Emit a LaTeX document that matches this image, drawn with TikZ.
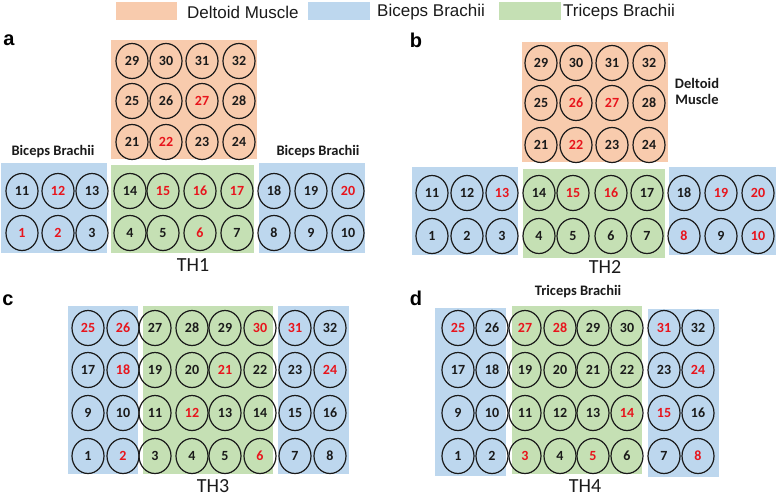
\documentclass[tikz,border=0pt]{standalone}
\usepackage{fontspec}
\setmainfont{Carlito}
\newfontfamily\arialf{Liberation Sans}
\usetikzlibrary{shapes.geometric}
\definecolor{dorange}{HTML}{F8CBAD}
\definecolor{bblue}{HTML}{BDD7EE}
\definecolor{tgreen}{HTML}{C5E0B4}
\definecolor{rd}{HTML}{E8141C}
\definecolor{bk}{HTML}{1A1A1A}
\begin{document}
\begin{tikzpicture}[x=1pt,y=-1pt,
  el/.style={draw=bk, line width=1.2pt, ellipse, minimum width=32pt, minimum height=35pt, inner sep=0pt, font=\bfseries\fontsize{14}{14}\selectfont},
  lab/.style={font=\bfseries\fontsize{14.5}{16}\selectfont, text=bk},
  thl/.style={font=\fontsize{20}{20}\selectfont, text=bk, inner sep=0pt},
  pan/.style={font=\arialf\bfseries\fontsize{20}{20}\selectfont},
  leg/.style={font=\arialf\fontsize{17}{17}\selectfont, anchor=west, inner sep=0pt, text=bk}]
\useasboundingbox (0,0) rectangle (778,496);
% legend
\fill[dorange] (116,2) rectangle (177,20);
\node[leg] (l1) at (187,12) {Deltoid Muscle};
\fill[bblue] (308,2) rectangle (370,20);
\node[leg] (l2) at (377,12) {Biceps Brachii};
\fill[tgreen] (499,2) rectangle (561,20);
\node[leg] (l3) at (563,12) {Triceps Brachii};
% panel letters
\node[pan] (pa) at (9,40) {a};
\node[pan] (pb) at (416,40) {b};
\node[pan] (pc) at (8,300) {c};
\node[pan] (pd) at (416,298) {d};
% ---------- panel a ----------
\fill[dorange] (111,40) rectangle (257,159);
\fill[bblue] (1,163) rectangle (107,253);
\fill[tgreen] (111,165) rectangle (254,253);
\fill[bblue] (259,163) rectangle (365,253);
\foreach \x/\n/\c in {132/29/bk,166/30/bk,202/31/bk,239/32/bk}
  \node[el,text=\c] (a\n) at (\x,61) {\n};
\foreach \x/\n/\c in {132/25/bk,166/26/bk,202/27/rd,239/28/bk}
  \node[el,text=\c] (a\n) at (\x,101) {\n};
\foreach \x/\n/\c in {132/21/bk,166/22/rd,202/23/bk,239/24/bk}
  \node[el,text=\c] (a\n) at (\x,142) {\n};
\foreach \x/\n/\c in {22/11/bk,58/12/rd,92/13/bk,130/14/bk,163/15/rd,200/16/rd,237/17/rd,274/18/bk,311/19/bk,348/20/rd}
  \node[el,text=\c] (a\n) at (\x,191) {\n};
\foreach \x/\n/\c in {22/1/rd,58/2/rd,92/3/bk,130/4/bk,163/5/bk,200/6/rd,237/7/bk,274/8/bk,311/9/bk,348/10/bk}
  \node[el,text=\c] (a\n) at (\x,233) {\n};
\node[lab] (abl) at (53,152) {Biceps Brachii};
\node[lab] (abr) at (318,152) {Biceps Brachii};
\node[thl] (th1) at (193,265) {TH1};
% ---------- panel b ----------
\fill[dorange] (522,42) rectangle (668,162);
\fill[bblue] (412,167) rectangle (518,255);
\fill[tgreen] (523,169) rectangle (665,258);
\fill[bblue] (669,167) rectangle (776,255);
\foreach \x/\n/\c in {541/29/bk,576/30/bk,612/31/bk,649/32/bk}
  \node[el,text=\c] (b\n) at (\x,63) {\n};
\foreach \x/\n/\c in {541/25/bk,576/26/rd,612/27/rd,649/28/bk}
  \node[el,text=\c] (b\n) at (\x,103) {\n};
\foreach \x/\n/\c in {541/21/bk,576/22/rd,612/23/bk,649/24/bk}
  \node[el,text=\c] (b\n) at (\x,145) {\n};
\foreach \x/\n/\c in {432/11/bk,467/12/bk,502/13/rd,539/14/bk,573/15/rd,611/16/rd,647/17/bk,684/18/bk,721/19/rd,758/20/rd}
  \node[el,text=\c] (b\n) at (\x,193) {\n};
\foreach \x/\n/\c in {432/1/bk,467/2/bk,502/3/bk,539/4/bk,573/5/bk,611/6/bk,647/7/bk,684/8/rd,721/9/bk,758/10/rd}
  \node[el,text=\c] (b\n) at (\x,236) {\n};
\node[lab, align=center] (bdm) at (697,91) {Deltoid\\Muscle};
\node[thl] (th2) at (605,267) {TH2};
% ---------- panel c ----------
\fill[bblue] (68,306) rectangle (138,474);
\fill[tgreen] (143,306) rectangle (273,474);
\fill[bblue] (278,306) rectangle (349,474);
\foreach \x/\n/\c in {88/25/rd,123/26/rd,155/27/bk,192/28/bk,225/29/bk,260/30/rd,295/31/rd,330/32/bk}
  \node[el,text=\c] (c\n) at (\x,328) {\n};
\foreach \x/\n/\c in {88/17/bk,123/18/rd,155/19/bk,192/20/bk,225/21/rd,260/22/bk,295/23/bk,330/24/rd}
  \node[el,text=\c] (c\n) at (\x,370) {\n};
\foreach \x/\n/\c in {88/9/bk,123/10/bk,155/11/bk,192/12/rd,225/13/bk,260/14/bk,295/15/bk,330/16/bk}
  \node[el,text=\c] (c\n) at (\x,413) {\n};
\foreach \x/\n/\c in {88/1/bk,123/2/rd,155/3/bk,192/4/bk,225/5/bk,260/6/rd,295/7/bk,330/8/bk}
  \node[el,text=\c] (c\n) at (\x,456) {\n};
\node[thl] (th3) at (213,486) {TH3};
% ---------- panel d ----------
\fill[bblue] (435,308) rectangle (506,476);
\fill[tgreen] (512,306) rectangle (642,474);
\fill[bblue] (648,309) rectangle (719,477);
\foreach \x/\n/\c in {458/25/rd,492/26/bk,525/27/rd,560/28/rd,593/29/bk,627/30/bk,664/31/rd,698/32/bk}
  \node[el,text=\c] (d\n) at (\x,328) {\n};
\foreach \x/\n/\c in {458/17/bk,492/18/bk,525/19/bk,560/20/bk,593/21/bk,627/22/bk,664/23/bk,698/24/rd}
  \node[el,text=\c] (d\n) at (\x,370) {\n};
\foreach \x/\n/\c in {458/9/bk,492/10/bk,525/11/bk,560/12/bk,593/13/bk,627/14/rd,664/15/rd,698/16/bk}
  \node[el,text=\c] (d\n) at (\x,413) {\n};
\foreach \x/\n/\c in {458/1/bk,492/2/bk,525/3/rd,560/4/bk,593/5/rd,627/6/bk,664/7/bk,698/8/rd}
  \node[el,text=\c] (d\n) at (\x,456) {\n};
\node[lab] (dtb) at (578,292) {Triceps Brachii};
\node[thl] (th4) at (585,486) {TH4};
\end{tikzpicture}
\end{document}
